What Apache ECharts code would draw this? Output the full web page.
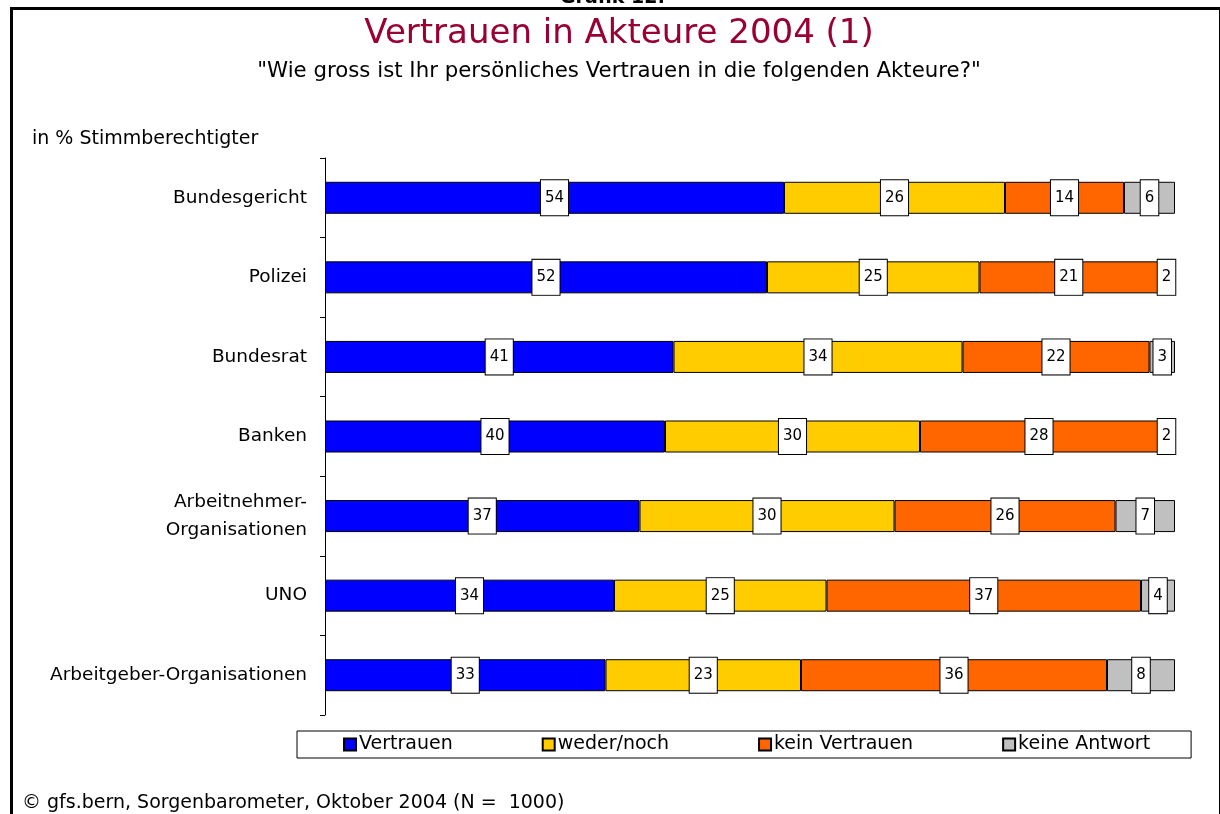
<!DOCTYPE html>
<html>
<head>
<meta charset="utf-8">
<script src="https://cdn.jsdelivr.net/npm/echarts@6/dist/echarts.min.js"></script>
<style>
  html, body { margin: 0; padding: 0; background: #fff; }
  #chart { width: 1220px; height: 814px; }
</style>
</head>
<body>
<div id="chart"></div>
<script>
// Akteure, von oben nach unten
const categories = ['Bundesgericht', 'Polizei', 'Bundesrat', 'Banken', 'Arbeitnehmer-\nOrganisationen', 'UNO', 'Arbeitgeber-Organisationen'];
const vertrauen = [54, 52, 41, 40, 37, 34, 33];
const wederNoch = [26, 25, 34, 30, 30, 25, 23];
const keinVertrauen = [14, 21, 22, 28, 26, 37, 36];
const keineAntwort = [6, 2, 3, 2, 7, 4, 8];

const seriesNames = ['Vertrauen', 'weder/noch', 'kein Vertrauen', 'keine Antwort'];
const seriesColors = ['#0000FF', '#FFCC00', '#FF6600', '#C0C0C0'];
const seriesData = [vertrauen, wederNoch, keinVertrauen, keineAntwort];

const FONT = 'DejaVu Sans, sans-serif';

const chart = echarts.init(document.getElementById('chart'));

const option = {
  animation: false,
  backgroundColor: '#fff',
  textStyle: { fontFamily: FONT },
  grid: { left: 325, right: 45, top: 158, bottom: 99 },
  xAxis: {
    type: 'value',
    min: 0,
    max: 100,
    show: false
  },
  yAxis: {
    type: 'category',
    inverse: true,
    data: categories,
    axisLine: { show: true, lineStyle: { color: '#000', width: 1 } },
    axisTick: { show: true, length: 5, lineStyle: { color: '#000' } },
    axisLabel: { color: '#000', fontSize: 18.5, margin: 18, fontFamily: FONT, lineHeight: 28, align: 'right' },
    splitLine: { show: false }
  },
  legend: {
    left: 297,
    top: 731,
    itemWidth: 12,
    itemHeight: 12,
    itemGap: 89,
    padding: [4, 41, 4, 46],
    borderColor: '#000',
    borderWidth: 1,
    icon: 'rect',
    textStyle: { color: '#000', fontSize: 19, fontFamily: FONT, padding: [0, 0, 0, -2] },
    data: seriesNames
  },
  series: seriesNames.map((name, i) => ({
    name: name,
    type: 'bar',
    stack: 'total',
    barWidth: 32,
    data: seriesData[i],
    itemStyle: { color: seriesColors[i], borderColor: '#000', borderWidth: 1 },
    label: {
      show: true,
      position: 'inside',
      color: '#000',
      fontSize: 15,
      lineHeight: 18,
      fontFamily: FONT,
      backgroundColor: '#fff',
      borderColor: '#000',
      borderWidth: 1,
      padding: [9, 4, 8, 4],
      formatter: '{c}'
    }
  })),
  graphic: [
    {
      type: 'text', left: 560, top: -11,
      style: { text: 'Grafik 12:', font: 'bold 19px ' + FONT, fill: '#000' }
    },
    {
      type: 'rect', left: 9, top: 6, z: 100, silent: true,
      shape: { width: 1209, height: 900 },
      style: { fill: 'none', stroke: '#000', lineWidth: 3 }
    },
    {
      type: 'text', x: 619, y: 17,
      style: { text: 'Vertrauen in Akteure 2004 (1)', font: '34px ' + FONT, fill: '#990033', align: 'center', verticalAlign: 'top' }
    },
    {
      type: 'text', x: 619, y: 61,
      style: { text: '"Wie gross ist Ihr persönliches Vertrauen in die folgenden Akteure?"', font: '21.3px ' + FONT, fill: '#000', align: 'center', verticalAlign: 'top' }
    },
    {
      type: 'text', left: 32, top: 130,
      style: { text: 'in % Stimmberechtigter', font: '19px ' + FONT, fill: '#000' }
    },
    {
      type: 'text', left: 22, top: 794,
      style: { text: '© gfs.bern, Sorgenbarometer, Oktober 2004 (N =  1000)', font: '19px ' + FONT, fill: '#000' }
    }
  ]
};

chart.setOption(option);
</script>
</body>
</html>
